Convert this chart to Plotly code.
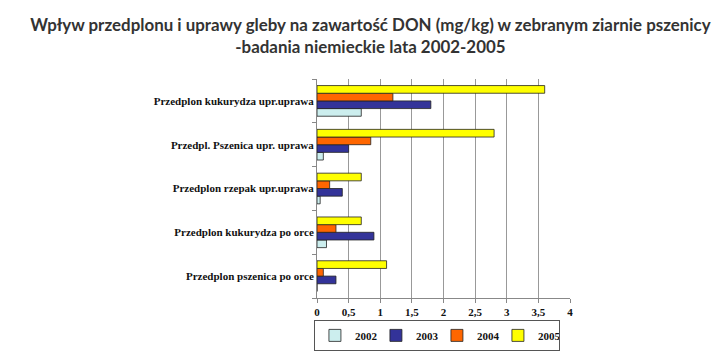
import plotly.graph_objects as go

categories = [
    "Przedplon kukurydza upr.uprawa",
    "Przedpl. Pszenica upr. uprawa",
    "Przedplon rzepak upr.uprawa",
    "Przedplon kukurydza po orce",
    "Przedplon pszenica po orce",
]
years = ["2002", "2003", "2004", "2005"]
v2002 = [0.7, 0.1, 0.05, 0.15, 0.0]
v2003 = [1.8, 0.5, 0.4, 0.9, 0.3]
v2004 = [1.2, 0.85, 0.2, 0.3, 0.1]
v2005 = [3.6, 2.8, 0.7, 0.7, 1.1]
colors = ["#CCEEEE", "#333399", "#FF6600", "#FFFF00"]

fig = go.Figure()
for name, vals, col in zip(years, [v2002, v2003, v2004, v2005], colors):
    fig.add_trace(go.Bar(
        y=categories, x=vals, name=name, orientation="h",
        marker=dict(color=col, line=dict(color="#222222", width=0.8)),
    ))

serif = "Liberation Serif"
fig.update_layout(
    width=712, height=355,
    paper_bgcolor="white", plot_bgcolor="white",
    margin=dict(l=309, r=150, t=71, b=55),
    barmode="group", bargap=0.3, bargroupgap=0,
    title=dict(
        text="Wpływ przedplonu i uprawy gleby na zawartość DON (mg/kg) w zebranym ziarnie pszenicy<br>-badania niemieckie lata 2002-2005",
        x=0.509, xanchor="center", xref="container",
        y=0.936, yanchor="top", yref="container",
        font=dict(family="Lato", size=16.9, color="#333333", weight="bold"),
    ),
    xaxis=dict(
        range=[0, 4], dtick=0.5, automargin=False,
        showgrid=True, gridcolor="#999999", gridwidth=1,
        showline=True, linecolor="#888888", linewidth=1,
        ticks="outside", ticklen=4, tickcolor="#888888",
        tickfont=dict(family=serif, size=11, color="#111111", weight="bold"),
        zeroline=False, fixedrange=True,
    ),
    yaxis=dict(
        categoryorder="array", categoryarray=categories[::-1], automargin=False,
        showline=True, linecolor="#888888", linewidth=1,
        ticks="outside", ticklen=4, tickcolor="#888888", tickson="boundaries",
        tickfont=dict(family=serif, size=11, color="#111111", weight="bold"),
        showgrid=False,
    ),
    legend=dict(
        orientation="h", x=0.474, xanchor="center",
        y=-0.1, yanchor="top",
        bordercolor="#555555", borderwidth=1,
        font=dict(family=serif, size=11, color="#111111", weight="bold"),
        itemwidth=30, entrywidth=16, entrywidthmode="pixels", tracegroupgap=0,
    ),
    separators=", ",
)
fig.write_html("out.html")
